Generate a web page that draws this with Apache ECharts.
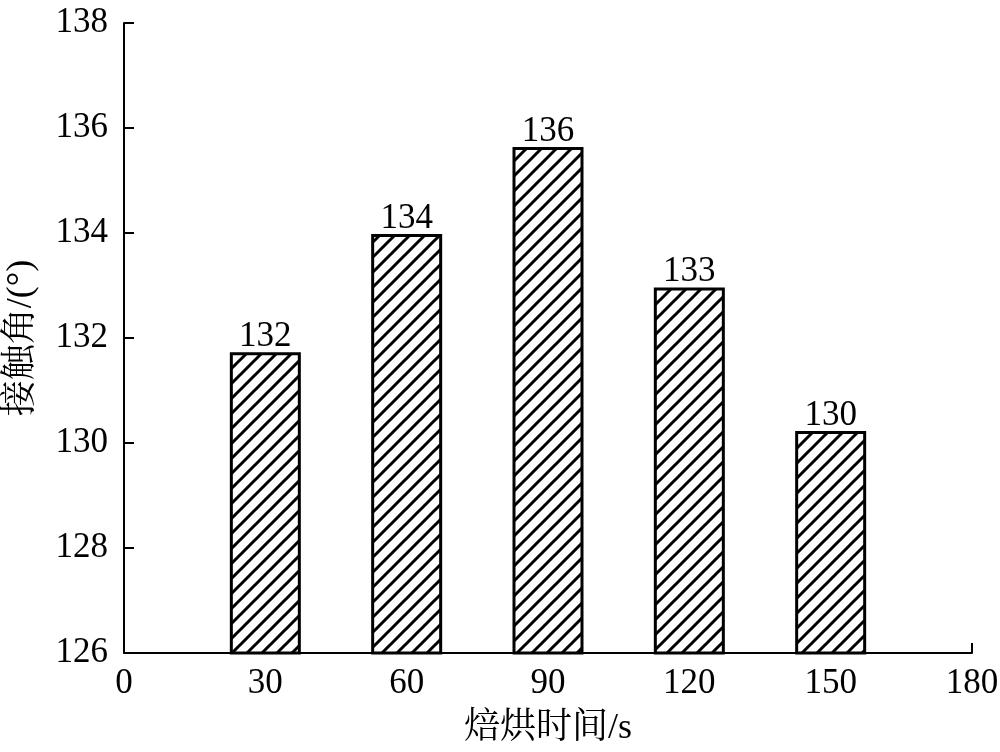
<!DOCTYPE html>
<html>
<head>
<meta charset="utf-8">
<script src="https://cdn.jsdelivr.net/npm/echarts@6/dist/echarts.min.js"></script>
<style>html,body{margin:0;padding:0;background:#fff;}#c{width:1000px;height:752px;}</style>
</head>
<body>
<div id="c"></div>
<script>
const bakeTimes = [30, 60, 90, 120, 150];
const contactAngles = [131.73, 133.98, 135.64, 132.96, 130.23];
const barLabels = ['132', '134', '136', '133', '130'];
const xTicks = [0, 30, 60, 90, 120, 150, 180];
const yTicks = [126, 128, 130, 132, 134, 136, 138];

const FONT = "'Liberation Serif', 'Noto Serif CJK SC', 'Noto Sans CJK SC', serif";

function makeHatch() {
  const s = 15;
  const cv = document.createElement('canvas');
  cv.width = s; cv.height = s;
  const g = cv.getContext('2d');
  g.fillStyle = '#fff';
  g.fillRect(0, 0, s, s);
  g.strokeStyle = '#000';
  g.lineWidth = 3;
  g.beginPath();
  g.moveTo(-2, s + 2); g.lineTo(s + 2, -2);
  g.moveTo(-s / 2 - 2, s / 2 + 2); g.lineTo(s / 2 + 2, -s / 2 - 2);
  g.moveTo(s / 2 - 2, s * 1.5 + 2); g.lineTo(s * 1.5 + 2, s / 2 - 2);
  g.stroke();
  return cv;
}

const chart = echarts.init(document.getElementById('c'), null, {renderer: 'canvas'});
chart.setOption({
  backgroundColor: '#fff',
  animation: false,
  grid: {left: 124, right: 28, top: 23, bottom: 99, containLabel: false, outerBoundsMode: 'none'},
  xAxis: {
    type: 'value',
    min: xTicks[0], max: xTicks[xTicks.length - 1], interval: 30,
    name: '焙烘时间/s',
    nameLocation: 'middle',
    nameGap: 58,
    nameTextStyle: {fontFamily: FONT, fontSize: 36, color: '#000'},
    axisLine: {show: true, onZero: false, lineStyle: {color: '#000', width: 2}},
    axisTick: {show: true, inside: true, length: 10, lineStyle: {color: '#000', width: 2}},
    axisLabel: {fontFamily: FONT, fontSize: 35, color: '#000', margin: 13},
    splitLine: {show: false}
  },
  yAxis: {
    type: 'value',
    min: yTicks[0], max: yTicks[yTicks.length - 1], interval: 2,
    name: '接触角/(°)',
    nameLocation: 'middle',
    nameGap: 84,
    nameRotate: 90,
    nameTextStyle: {fontFamily: FONT, fontSize: 36, color: '#000'},
    axisLine: {show: true, lineStyle: {color: '#000', width: 2}},
    axisTick: {show: true, inside: true, length: 10, lineStyle: {color: '#000', width: 2}},
    axisLabel: {fontFamily: FONT, fontSize: 35, color: '#000', margin: 16},
    splitLine: {show: false}
  },
  series: [{
    type: 'bar',
    data: bakeTimes.map((t, i) => [t, contactAngles[i]]),
    barWidth: 71,
    itemStyle: {
      color: {image: makeHatch(), repeat: 'repeat'},
      borderColor: '#000',
      borderWidth: 3
    },
    label: {
      show: true,
      position: 'top',
      distance: -2,
      fontFamily: FONT,
      fontSize: 35,
      color: '#000',
      formatter: p => barLabels[p.dataIndex]
    }
  }]
});
</script>
</body>
</html>
